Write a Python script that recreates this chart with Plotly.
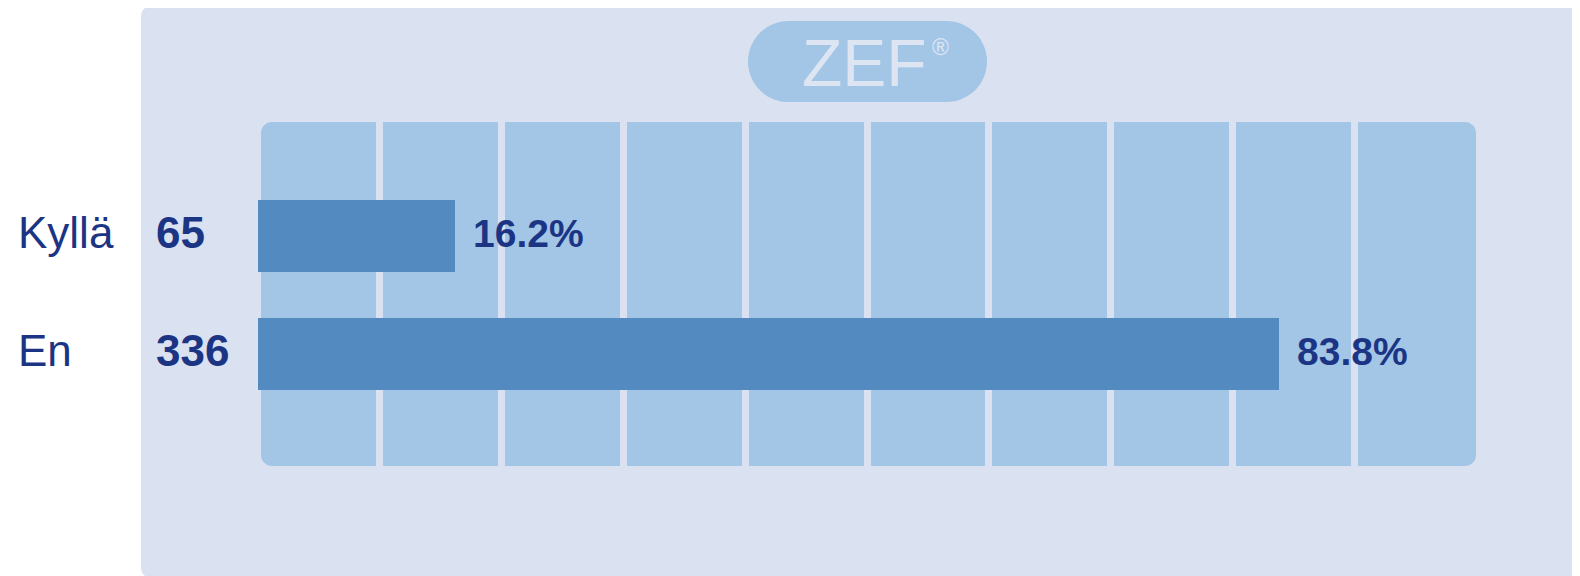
import plotly.graph_objects as go

# ---- data ----
categories = ["Kyllä", "En"]
counts = [65, 336]
percents = [16.2, 83.8]
pct_labels = ["16.2%", "83.8%"]

# ---- style ----
OFF = 8  # page body margin
W, H = 1580 - OFF, 576 - OFF
PL, PR, PT, PB = 258, 1476, 122, 466  # plot area in page pixels
L, T = PL - OFF, PT - OFF
R, B = W - (PR - OFF), H - (PB - OFF)
PW, PH = PR - PL, PB - PT
PANEL = "#DAE1F0"
GRID = "#A3C6E7"
BAR = "#538AC0"
TXT = "#1B3584"
LOGO_TXT = "#DDE4F2"
K = 0.5523


def px(x):
    return (x - PL) / PW


def py(y):
    return 1 - (y - PT) / PH


def rrect(x0, y0, x1, y1, r):
    k = r * (1 - K)
    pts = [
        ("M", [(x0 + r, y0)]),
        ("L", [(x1 - r, y0)]),
        ("C", [(x1 - k, y0), (x1, y0 + k), (x1, y0 + r)]),
        ("L", [(x1, y1 - r)]),
        ("C", [(x1, y1 - k), (x1 - k, y1), (x1 - r, y1)]),
        ("L", [(x0 + r, y1)]),
        ("C", [(x0 + k, y1), (x0, y1 - k), (x0, y1 - r)]),
        ("L", [(x0, y0 + r)]),
        ("C", [(x0, y0 + k), (x0 + k, y0), (x0 + r, y0)]),
    ]
    s = ""
    for cmd, ps in pts:
        s += cmd + " " + " ".join(f"{px(a):.5f},{py(b):.5f}" for a, b in ps) + " "
    return s + "Z"


fig = go.Figure()
fig.add_trace(go.Bar(
    x=percents, y=categories, orientation="h",
    marker=dict(color=BAR, line=dict(width=0)),
    width=0.61, hoverinfo="skip",
))

shapes = [
    dict(type="path", path=rrect(141, 6, 1582, 578, 10), xref="paper", yref="paper",
         fillcolor=PANEL, line=dict(width=0), layer="below"),
    dict(type="path", path=rrect(261, 122, 1476, 466, 11), xref="paper", yref="paper",
         fillcolor=GRID, line=dict(width=0), layer="below"),
    dict(type="path", path=rrect(748, 21, 987, 102, 40.5), xref="paper", yref="paper",
         fillcolor=GRID, line=dict(width=0), layer="below"),
]

annotations = []
for cat, cnt, pv, pl in zip(categories, counts, percents, pct_labels):
    annotations.append(dict(x=px(16), xref="paper", y=cat, yref="y", text=cat,
                            showarrow=False, xanchor="left", yanchor="middle", yshift=4,
                            font=dict(family="Arial, Liberation Sans", size=44, color=TXT)))
    annotations.append(dict(x=px(154), xref="paper", y=cat, yref="y", text=f"<b>{cnt}</b>",
                            showarrow=False, xanchor="left", yanchor="middle", yshift=4,
                            font=dict(family="Arial, Liberation Sans", size=44, color=TXT)))
    annotations.append(dict(x=pv, xref="x", y=cat, yref="y", text=f"<b>{pl}</b>",
                            showarrow=False, xanchor="left", yanchor="middle", xshift=16, yshift=3,
                            font=dict(family="Arial, Liberation Sans", size=39, color=TXT)))

annotations.append(dict(x=px(864.5), xref="paper", y=py(63), yref="paper", text="ZEF",
                        showarrow=False, xanchor="center", yanchor="middle",
                        font=dict(family="Arial, Liberation Sans", size=66, color=LOGO_TXT)))
annotations.append(dict(x=px(930), xref="paper", y=py(32), yref="paper", text="®",
                        showarrow=False, xanchor="left", yanchor="top",
                        font=dict(family="Arial, Liberation Sans", size=23, color=LOGO_TXT)))

fig.update_layout(
    width=W, height=H,
    margin=dict(l=L, r=R, t=T, b=B, pad=0),
    paper_bgcolor="white", plot_bgcolor="rgba(0,0,0,0)",
    showlegend=False,
    bargap=0,
    shapes=shapes,
    annotations=annotations,
    xaxis=dict(range=[0, 100], tickvals=[10, 20, 30, 40, 50, 60, 70, 80, 90],
               showgrid=True, gridcolor=PANEL, gridwidth=7, showticklabels=False,
               zeroline=False, showline=False, ticks="", fixedrange=True),
    yaxis=dict(type="category", range=[1.949, -0.966], showgrid=False, zeroline=False,
               showline=False, showticklabels=False, ticks="", fixedrange=True),
)

fig.write_html("out.html")
